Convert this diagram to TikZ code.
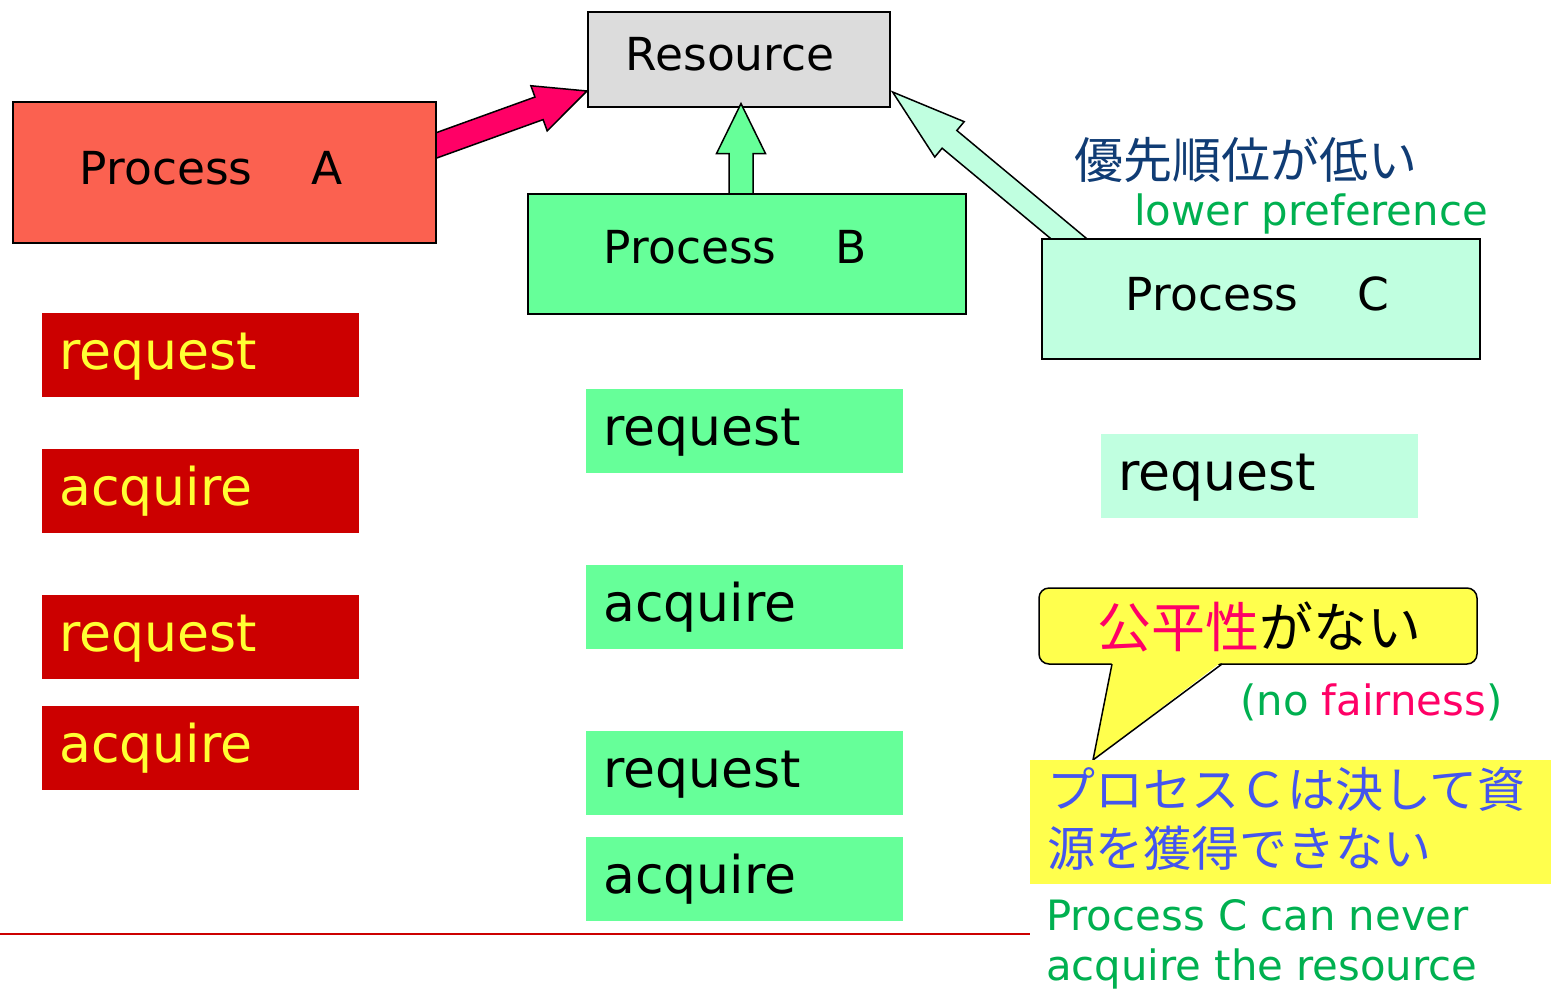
\documentclass[tikz,border=0pt]{standalone}
\usepackage{fontspec}
\setmainfont{DejaVu Sans}
\newfontfamily\jpfont{Noto Sans CJK JP}
\usetikzlibrary{calc}
\pgfdeclarelayer{front}
\pgfsetlayers{main,front}

\definecolor{resgray}{HTML}{DCDCDC}
\definecolor{procA}{HTML}{FB6150}
\definecolor{procB}{HTML}{66FF99}
\definecolor{procC}{HTML}{C0FFE0}
\definecolor{cmdred}{HTML}{CC0000}
\definecolor{cmdyellow}{HTML}{FFFF33}
\definecolor{hotpink}{HTML}{FF0066}
\definecolor{navy}{HTML}{103C74}
\definecolor{txtgreen}{HTML}{00B050}
\definecolor{jpblue}{HTML}{4455EE}
\definecolor{noteyellow}{HTML}{FFFF4D}

% thick block arrow: [style]{tail}{tip}{shaft half width}{head half width}{head length}
\newcommand\blockarrow[6][]{%
  \coordinate (bah) at ($(#3)!#6!(#2)$);
  \draw[blockarr,#1] ($(#2)!#4!90:(#3)$) -- ($(bah)!#4!90:(#3)$)
    -- ($(bah)!#5!90:(#3)$) -- (#3) -- ($(bah)!#5!-90:(#3)$)
    -- ($(bah)!#4!-90:(#3)$) -- ($(#2)!#4!-90:(#3)$) -- cycle;
}

\begin{document}
\begin{tikzpicture}[x=1pt,y=-1pt,
  procbox/.style={draw=black, line width=1.6pt, anchor=north west, inner ysep=0pt,
    align=left, font=\fontsize{45.5}{54}\selectfont},
  cmd/.style={anchor=north west, inner xsep=17pt, inner ysep=0pt, text width=283pt,
    align=left, text height=56pt, text depth=28pt, font=\fontsize{52}{60}\selectfont},
  cmdA/.style={cmd, fill=cmdred, text=cmdyellow},
  cmdB/.style={cmd, fill=procB},
  cmdC/.style={cmd, fill=procC},
  blockarr/.style={draw=black, line width=1.5pt, line join=miter},
  jp/.style={anchor=base west, inner sep=0pt, font=\jpfont\fontsize{48}{58}\selectfont},
  en/.style={anchor=base west, inner sep=0pt, text=txtgreen, font=\fontsize{41.8}{50}\selectfont},
]
\useasboundingbox (0,0) rectangle (1551,989);

% shared resource
\node[procbox, fill=resgray, inner xsep=38pt, text width=226pt, text height=59pt,
  text depth=36pt] (R) at (587,11) {Resource};

% the three processes
\begin{pgfonlayer}{front}
\node[procbox, fill=procA, inner xsep=67pt, text width=289pt, text height=83pt,
  text depth=58pt] (A) at (12,101) {Process\hspace{1.3em}A};
\node[procbox, fill=procB, inner xsep=76pt, text width=286pt, text height=70pt,
  text depth=50pt] (B) at (527,193) {Process\hspace{1.3em}B};
\node[procbox, fill=procC, inner xsep=84pt, text width=270pt, text height=72pt,
  text depth=48pt] (C) at (1041,238) {Process\hspace{1.3em}C};
\end{pgfonlayer}

% arrows into the resource
\coordinate (aTail) at ($(A.north east)+(-13,49)$);
\coordinate (aTip)  at ($(R.north west)+(0,80)$);
\coordinate (bTail) at ($(B.north west)+(214,8)$);
\coordinate (bTip)  at ($(R.south west)+(154,-4)$);
\coordinate (cTail) at ($(C.north west)+(39,10)$);
\coordinate (cTip)  at ($(R.north east)+(2,81)$);
\blockarrow[fill=hotpink]{aTail}{aTip}{12pt}{24pt}{51pt}
\blockarrow[fill=procB]{bTail}{bTip}{12pt}{24.5pt}{50pt}
\blockarrow[fill=procC]{cTail}{cTip}{11.5pt}{23pt}{74pt}

% low priority note
\node[jp, text=navy, font=\jpfont\fontsize{49}{58}\selectfont] (prio) at (1074,178) {優先順位が低い};
\node[en] (prioEn) at (1134,225) {lower preference};

% operation sequences
\node[cmdA] (a1) at (42,313) {request};
\node[cmdA] (a2) at (42,449) {acquire};
\node[cmdA] (a3) at (42,595) {request};
\node[cmdA] (a4) at (42,706) {acquire};

\node[cmdB] (b1) at (586,389) {request};
\node[cmdB] (b2) at (586,565) {acquire};
\node[cmdB] (b3) at (586,731) {request};
\node[cmdB] (b4) at (586,837) {acquire};

\node[cmdC] (c1) at (1101,434) {request};

% separator
\coordinate (ruleL) at (0,934);
\coordinate (ruleR) at (1030,934);
\draw[cmdred, line width=1.4pt] (ruleL) -- (ruleR);

% speech bubble
\filldraw[fill=noteyellow, draw=black, line width=1.5pt, rounded corners=10pt]
  (1039,588) rectangle (1477,664);
\fill[noteyellow] (1093,760) -- (1112,661.5) -- (1222,661.5) -- cycle;
\draw[line width=1.5pt, line join=miter] (1112,664) -- (1093,760) -- (1222,664);
\node[jp, font=\jpfont\fontsize{54}{60}\selectfont] (fair) at (1097,647)
  {\textcolor{hotpink}{公平性}がない};
\node[en] (fairEn) at (1240,715)
  {\textcolor{txtgreen}{(no }\textcolor{hotpink}{fairness}\textcolor{txtgreen}{)}};

% conclusion
\node[fill=noteyellow, anchor=north west, inner sep=0pt, minimum width=521pt,
  minimum height=124pt] (concl) at (1030,760) {};
\node[jp, text=jpblue] (jp1) at (1047,807) {プロセスＣは決して資};
\node[jp, text=jpblue] (jp2) at (1047,866) {源を獲得できない};
\node[en] (en1) at (1046,930) {Process C can never};
\node[en] (en2) at (1046,980) {acquire the resource};
\end{tikzpicture}
\end{document}
